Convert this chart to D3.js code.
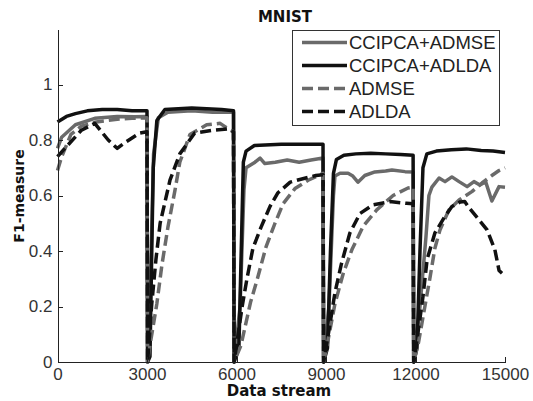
<!DOCTYPE html>
<html>
  <head>
    <meta charset="utf-8">
    <title>MNIST F1-measure</title>
    <script type="text/javascript" src="https://cdn.jsdelivr.net/npm/d3@7"></script>
    <style type="text/css">
      body { margin: 0; background: #fff; }
      .axis path, .axis line { fill: none; stroke: #222; stroke-width: 1; shape-rendering: crispEdges; }
      .axis text { font-family: "Liberation Sans", Arial, sans-serif; font-size: 17px; fill: #333; }
      .lab { font-family: "DejaVu Sans", sans-serif; font-weight: bold; fill: #111; }
      .leg text { font-family: "Liberation Sans", Arial, sans-serif; font-size: 18.5px; fill: #222; }
    </style>
  </head>
  <body>
    <script type="text/javascript">
      var w = 533, h = 401;

      // series names (legend order)
      var seriesNames = ["CCIPCA+ADMSE", "CCIPCA+ADLDA", "ADMSE", "ADLDA"];
      var xTicks = [0, 3000, 6000, 9000, 12000, 15000];
      var yTicks = [0, 0.2, 0.4, 0.6, 0.8, 1];

      // [data stream index, F1-measure]
      var ccipcaAdmse = [
        [0,0.77],[140,0.81],[600,0.855],[1250,0.878],[2000,0.885],[2600,0.884],[3000,0.885],[3020,0],
        [3120,0.3],[3220,0.75],[3380,0.88],[3700,0.9],[4500,0.905],[5200,0.9],[5900,0.9],[5920,0],
        [6120,0.2],[6250,0.62],[6320,0.7],[6620,0.72],[6790,0.735],[6950,0.715],[7300,0.72],[7700,0.728],[8100,0.72],[8500,0.728],[8900,0.735],[8920,0],
        [9100,0.2],[9250,0.6],[9300,0.67],[9470,0.68],[9740,0.68],[9900,0.67],[10070,0.648],[10300,0.672],[10640,0.685],[11000,0.688],[11210,0.692],[11650,0.686],[11920,0.685],[11940,0],
        [12150,0.2],[12350,0.45],[12450,0.6],[12550,0.63],[12790,0.663],[12990,0.65],[13220,0.667],[13460,0.65],[13730,0.632],[13960,0.65],[14160,0.638],[14350,0.65],[14560,0.58],[14800,0.632],[15000,0.63]
      ];
      var ccipcaAdlda = [
        [0,0.865],[300,0.885],[600,0.895],[1000,0.905],[1500,0.91],[2000,0.91],[2500,0.905],[3000,0.905],[3020,0],
        [3100,0.02],[3160,0.4],[3210,0.7],[3330,0.87],[3600,0.91],[4500,0.915],[5500,0.91],[5900,0.905],[5920,0],
        [6080,0.05],[6170,0.45],[6230,0.72],[6320,0.76],[6600,0.78],[7500,0.785],[8500,0.785],[8900,0.785],[8920,0],
        [9050,0.05],[9150,0.4],[9250,0.68],[9350,0.73],[9600,0.745],[10000,0.75],[10500,0.752],[11000,0.75],[11500,0.748],[11920,0.745],[11940,0],
        [12050,0.05],[12150,0.4],[12250,0.7],[12380,0.75],[12700,0.76],[13200,0.765],[13700,0.768],[14200,0.762],[14600,0.76],[15000,0.755]
      ];
      var admse = [
        [0,0.69],[140,0.74],[450,0.82],[800,0.85],[1300,0.865],[2000,0.875],[2500,0.878],[3000,0.88],[3020,0],
        [3100,0.06],[3330,0.21],[3500,0.35],[3700,0.485],[3940,0.62],[4100,0.72],[4440,0.82],[5000,0.855],[5450,0.86],[5780,0.836],[5900,0.83],[5920,0],
        [6150,0.06],[6470,0.215],[6700,0.3],[6990,0.415],[7290,0.5],[7560,0.57],[7960,0.625],[8400,0.655],[8800,0.675],[8900,0.68],[8920,0],
        [9000,0.04],[9300,0.21],[9580,0.32],[9870,0.405],[10250,0.49],[10700,0.548],[11250,0.6],[11750,0.627],[11920,0.63],[11940,0],
        [12100,0.07],[12480,0.3],[12650,0.41],[12820,0.476],[13120,0.548],[13460,0.584],[13890,0.614],[14230,0.645],[14560,0.672],[14800,0.69],[15000,0.7]
      ];
      var adlda = [
        [0,0.74],[250,0.77],[800,0.835],[1250,0.86],[1700,0.8],[2000,0.77],[2250,0.79],[2750,0.825],[3000,0.83],[3020,0],
        [3160,0.21],[3300,0.37],[3440,0.5],[3770,0.655],[4100,0.75],[4600,0.825],[5200,0.835],[5700,0.84],[5900,0.83],[5920,0],
        [6190,0.2],[6350,0.3],[6550,0.41],[6820,0.485],[7120,0.56],[7390,0.61],[7800,0.648],[8060,0.656],[8660,0.672],[8900,0.675],[8920,0],
        [9100,0.115],[9300,0.25],[9520,0.355],[9800,0.465],[10140,0.535],[10570,0.566],[11140,0.578],[11700,0.572],[11920,0.57],[11940,0],
        [12050,0.08],[12250,0.235],[12390,0.37],[12650,0.465],[12960,0.52],[13220,0.56],[13500,0.577],[13650,0.578],[13800,0.555],[14130,0.512],[14400,0.476],[14660,0.405],[14800,0.33],[14900,0.32]
      ];

      var series = [ccipcaAdmse, ccipcaAdlda, admse, adlda];
      var colors = ["#6a6a6a", "#111111", "#6a6a6a", "#111111"];
      var dashes = [null, null, "11,5", "11,5"];

      var xScale = d3.scaleLinear().domain([0, 15000]).range([57.5, 505]);
      var yScale = d3.scaleLinear().domain([0, 1.2]).range([362, 29]);

      var svg = d3.select("body").append("svg")
                  .attr("width", w).attr("height", h);

      var line = d3.line()
                   .x(function(d) { return xScale(d[0]); })
                   .y(function(d) { return yScale(d[1]); });

      svg.selectAll("path.series")
         .data(series)
         .enter()
         .append("path")
         .attr("class", "series")
         .attr("d", line)
         .attr("fill", "none")
         .attr("stroke", function(d, i) { return colors[i]; })
         .attr("stroke-width", 3.5)
         .attr("stroke-linejoin", "round")
         .attr("stroke-dasharray", function(d, i) { return dashes[i]; });

      // axes, ticks pointing inside
      var xAxis = d3.axisBottom(xScale).tickValues(xTicks)
                    .tickSizeInner(-5).tickSizeOuter(0).tickPadding(6)
                    .tickFormat(d3.format("d"));
      var yAxis = d3.axisLeft(yScale).tickValues(yTicks)
                    .tickSizeInner(-5).tickSizeOuter(0).tickPadding(5)
                    .tickFormat(d3.format("~g"));

      svg.append("g").attr("class", "axis")
         .attr("transform", "translate(0," + yScale(0) + ")")
         .call(xAxis);
      svg.append("g").attr("class", "axis")
         .attr("transform", "translate(" + xScale(0) + ",0)")
         .call(yAxis);

      // titles
      svg.append("text").attr("class", "lab")
         .attr("x", 285).attr("y", 22).attr("text-anchor", "middle")
         .attr("font-size", 15).text("MNIST");
      svg.append("text").attr("class", "lab")
         .attr("x", 279).attr("y", 396).attr("text-anchor", "middle")
         .attr("font-size", 15).text("Data stream");
      svg.append("text").attr("class", "lab")
         .attr("transform", "translate(24,196) rotate(-90)")
         .attr("text-anchor", "middle")
         .attr("font-size", 14).text("F1-measure");

      // legend
      var leg = svg.append("g").attr("class", "leg");
      leg.append("rect")
         .attr("x", 292).attr("y", 30).attr("width", 207).attr("height", 95)
         .attr("fill", "#fff").attr("stroke", "#333").attr("stroke-width", 1)
         .attr("shape-rendering", "crispEdges");
      var item = leg.selectAll("g.item")
                    .data(seriesNames)
                    .enter()
                    .append("g")
                    .attr("class", "item")
                    .attr("transform", function(d, i) { return "translate(0," + (42.5 + i * 23) + ")"; });
      item.append("line")
          .attr("x1", 302).attr("x2", 347).attr("y1", 0).attr("y2", 0)
          .attr("stroke", function(d, i) { return colors[i]; })
          .attr("stroke-width", 3.5)
          .attr("stroke-dasharray", function(d, i) { return dashes[i]; });
      item.append("text")
          .attr("x", 349).attr("dy", "0.35em")
          .text(function(d) { return d; });
    </script>
  </body>
</html>
